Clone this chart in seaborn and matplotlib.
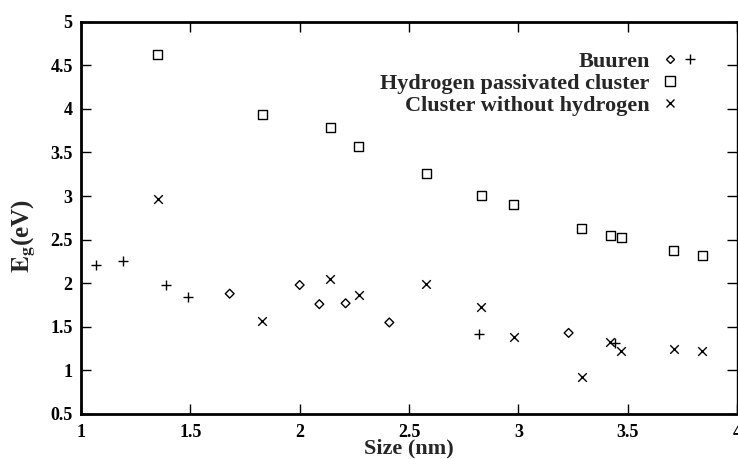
import matplotlib
matplotlib.use('Agg')
import matplotlib.pyplot as plt
import seaborn as sns
from matplotlib.lines import Line2D
from matplotlib.legend_handler import HandlerTuple

# Band gap vs cluster size
buuren_d_size = [1.68, 2.00, 2.09, 2.21, 2.41, 3.23]
buuren_d_gap = [1.88, 1.98, 1.76, 1.77, 1.55, 1.43]

buuren_p_size = [1.07, 1.19, 1.39, 1.49, 2.82, 3.44]
buuren_p_gap = [2.21, 2.25, 1.98, 1.84, 1.42, 1.32]

hyd_size = [1.35, 1.83, 2.14, 2.27, 2.58, 2.83, 2.98, 3.29, 3.42, 3.47, 3.71, 3.84]
hyd_gap = [4.62, 3.93, 3.79, 3.57, 3.26, 3.01, 2.90, 2.63, 2.55, 2.52, 2.37, 2.32]

bare_size = [1.35, 1.83, 2.14, 2.27, 2.58, 2.83, 2.98, 3.29, 3.42, 3.47, 3.71, 3.84]
bare_gap = [2.97, 1.57, 2.05, 1.87, 1.99, 1.73, 1.38, 0.92, 1.33, 1.22, 1.25, 1.22]

sns.set_style("ticks")
plt.rcParams['font.family'] = ['Liberation Serif', 'DejaVu Serif']
plt.rcParams['font.weight'] = 'bold'
plt.rcParams['mathtext.fontset'] = 'stix'

fig = plt.figure(figsize=(7.38, 4.59), dpi=100)
ax = fig.add_axes([81 / 738, 1 - 414 / 459, 656 / 738, 392.3 / 459])

sns.scatterplot(x=buuren_d_size, y=buuren_d_gap, marker='D', s=20, facecolor='none',
                edgecolor='black', linewidth=1, ax=ax)
sns.scatterplot(x=buuren_p_size, y=buuren_p_gap, marker='+', s=42, color='black',
                linewidth=1, ax=ax)
sns.scatterplot(x=hyd_size, y=hyd_gap, marker='s', s=42, facecolor='none',
                edgecolor='black', linewidth=1, ax=ax)
sns.scatterplot(x=bare_size, y=bare_gap, marker='x', s=38, color='black',
                linewidth=1, ax=ax)

ax.set_xlim(1, 4)
ax.set_ylim(0.5, 5)
ax.set_xticks([1, 1.5, 2, 2.5, 3, 3.5, 4])
ax.set_xticklabels(['1', '1.5', '2', '2.5', '3', '3.5', '4'])
ax.set_yticks([0.5, 1, 1.5, 2, 2.5, 3, 3.5, 4, 4.5, 5])
ax.set_yticklabels(['0.5', '1', '1.5', '2', '2.5', '3', '3.5', '4', '4.5', '5'])
ax.tick_params(direction='in', length=7, width=1, top=True, right=True,
               labelsize=13, pad=6, colors='black')
ax.tick_params(axis='x', pad=7)
for lab in ax.get_xticklabels() + ax.get_yticklabels():
    lab.set_fontweight('bold')

for side in ['left', 'bottom', 'top']:
    ax.spines[side].set_linewidth(2)
    ax.spines[side].set_color('black')
ax.spines['right'].set_linewidth(1)
ax.spines['right'].set_color('black')

ax.set_xlabel('Size (nm)', fontsize=16, fontweight='bold', labelpad=-1.5)
ax.set_ylabel(r'$\mathbf{E_g}$(eV)', fontsize=18, fontweight='bold')
ax.yaxis.set_label_coords(-0.066, 0.454)

# legend: gnuplot style, text right aligned, symbols on the right
h_d = Line2D([], [], marker='D', ls='none', ms=4.5, mfc='none', mec='black', mew=1)
h_p = Line2D([], [], marker='+', ls='none', ms=6.5, color='black', mew=1)
h_s = Line2D([], [], marker='s', ls='none', ms=6.5, mfc='none', mec='black', mew=1)
h_x = Line2D([], [], marker='x', ls='none', ms=6.2, color='black', mew=1)
blank = Line2D([], [], ls='none')
fs = 16
hl = 29.0 / fs
leg = ax.legend([(h_d, h_p), (h_s, blank), (h_x, blank)],
                ['Buuren', 'Hydrogen passivated cluster', 'Cluster without hydrogen'],
                handler_map={tuple: HandlerTuple(ndivide=None, pad=0)},
                loc='upper right', bbox_to_anchor=((700 - 81) / 656, 1 - (51 - 21.7) / 392.3),
                frameon=False, markerfirst=False, fontsize=fs, handlelength=hl,
                handletextpad=7.2 / fs, labelspacing=0.07, borderpad=0, borderaxespad=0)
for t in leg.get_texts():
    t.set_fontweight('bold')

fig.savefig('out.png', dpi=100)
